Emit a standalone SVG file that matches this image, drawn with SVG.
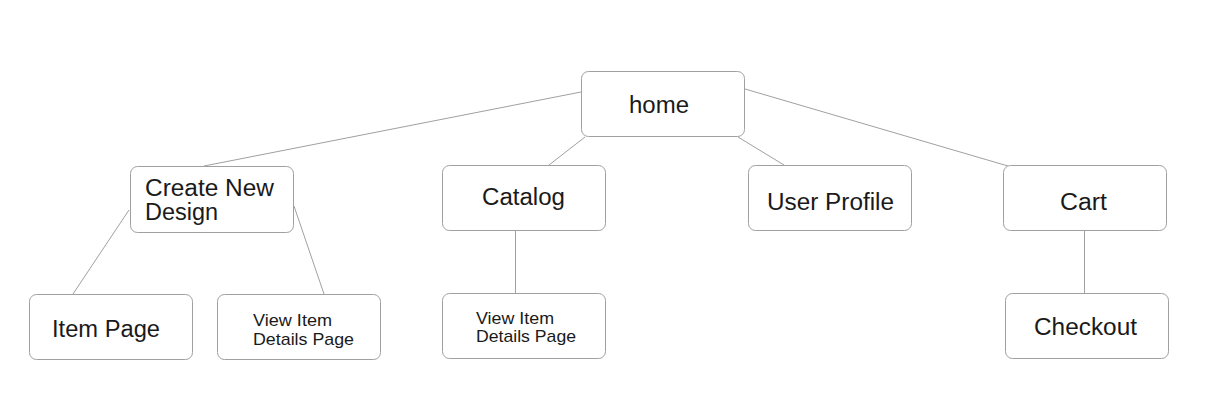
<svg xmlns="http://www.w3.org/2000/svg" width="1218" height="405" viewBox="0 0 1218 405">
<style>
.box{fill:#fff;stroke:#a0a0a0;stroke-width:1}
.lnk{stroke:#a0a0a0;stroke-width:1;fill:none}
.t{font-family:"Liberation Sans",Arial,sans-serif;fill:#1a1a1a;font-size:23px;font-weight:300}
.s{font-family:"Liberation Sans",Arial,sans-serif;fill:#1a1a1a;font-size:17px;font-weight:300}
</style>
<rect width="1218" height="405" fill="#fff"/>
<g id="connectors">
<line class="lnk" x1="581" y1="92" x2="204" y2="166"/>
<line class="lnk" x1="585" y1="137" x2="549" y2="165"/>
<line class="lnk" x1="738" y1="137" x2="784" y2="165"/>
<line class="lnk" x1="745" y1="89" x2="1008" y2="166"/>
<line class="lnk" x1="129" y1="210" x2="73" y2="294"/>
<line class="lnk" x1="294" y1="206" x2="324" y2="294"/>
<line class="lnk" x1="515.5" y1="231" x2="515.5" y2="293"/>
<line class="lnk" x1="1084.5" y1="231" x2="1084.5" y2="293"/>
</g>
<g id="home">
<rect class="box" x="581.5" y="71.5" width="163" height="65" rx="7"/>
<text class="t" x="629" y="113" textLength="60" lengthAdjust="spacingAndGlyphs">home</text>
</g>
<g id="create-new-design">
<rect class="box" x="130.5" y="166.5" width="163" height="66" rx="7"/>
<text class="t" x="145" y="196" textLength="129" lengthAdjust="spacingAndGlyphs">Create New</text>
<text class="t" x="145" y="220" textLength="73" lengthAdjust="spacingAndGlyphs">Design</text>
</g>
<g id="catalog">
<rect class="box" x="442.5" y="165.5" width="163" height="65" rx="7"/>
<text class="t" x="482" y="205" textLength="83" lengthAdjust="spacingAndGlyphs">Catalog</text>
</g>
<g id="user-profile">
<rect class="box" x="748.5" y="165.5" width="163" height="65" rx="7"/>
<text class="t" x="767" y="210" textLength="127" lengthAdjust="spacingAndGlyphs">User Profile</text>
</g>
<g id="cart">
<rect class="box" x="1003.5" y="165.5" width="163" height="65" rx="7"/>
<text class="t" x="1060" y="210" textLength="47" lengthAdjust="spacingAndGlyphs">Cart</text>
</g>
<g id="item-page">
<rect class="box" x="29.5" y="294.5" width="163" height="65" rx="7"/>
<text class="t" x="52" y="337" textLength="108" lengthAdjust="spacingAndGlyphs">Item Page</text>
</g>
<g id="view-item-details-1">
<rect class="box" x="217.5" y="294.5" width="163" height="65" rx="7"/>
<text class="s" x="253" y="326" textLength="79" lengthAdjust="spacingAndGlyphs">View Item</text>
<text class="s" x="253" y="345" textLength="101" lengthAdjust="spacingAndGlyphs">Details Page</text>
</g>
<g id="view-item-details-2">
<rect class="box" x="442.5" y="293.5" width="163" height="65" rx="7"/>
<text class="s" x="476" y="324" textLength="78" lengthAdjust="spacingAndGlyphs">View Item</text>
<text class="s" x="476" y="342" textLength="100" lengthAdjust="spacingAndGlyphs">Details Page</text>
</g>
<g id="checkout">
<rect class="box" x="1005.5" y="293.5" width="163" height="65" rx="7"/>
<text class="t" x="1034" y="335" textLength="103" lengthAdjust="spacingAndGlyphs">Checkout</text>
</g>
</svg>
